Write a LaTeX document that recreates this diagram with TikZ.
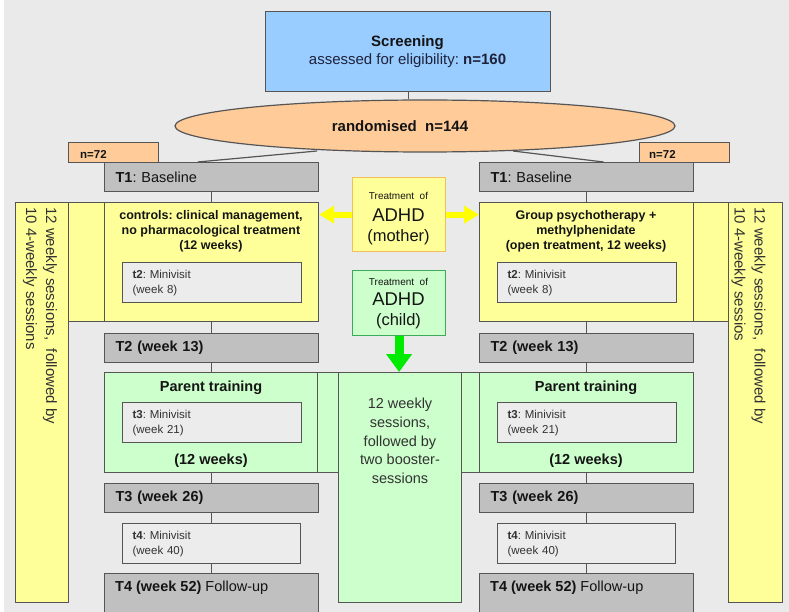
\documentclass[tikz,border=0pt]{standalone}
\usepackage{fontspec}
\setmainfont{Liberation Sans}
\usetikzlibrary{shapes.geometric,arrows.meta,calc}
\definecolor{bgc}{RGB}{234,234,234}
\definecolor{bluef}{RGB}{153,204,255}
\definecolor{peach}{RGB}{255,204,153}
\definecolor{tgray}{RGB}{192,192,192}
\definecolor{yel}{RGB}{255,255,153}
\definecolor{grn}{RGB}{204,255,204}
\definecolor{mini}{RGB}{236,236,236}
\definecolor{edgec}{RGB}{85,85,85}
\definecolor{mborder}{RGB}{240,190,90}
\definecolor{cborder}{RGB}{60,170,90}
\definecolor{arrY}{RGB}{255,255,0}
\definecolor{arrG}{RGB}{0,235,0}
\definecolor{txt}{RGB}{20,20,20}
\definecolor{txtg}{RGB}{50,50,50}
\definecolor{txtb}{RGB}{30,35,60}
\newcommand\fs[2]{\fontsize{#1}{#2}\selectfont}
\frenchspacing
\tikzset{
  box/.style={draw=edgec, line width=1.2pt, inner sep=0pt, anchor=north west, text=txt},
  tbox/.style={box, fill=tgray, minimum width=214pt, minimum height=29pt, text width=192pt, inner xsep=11pt, align=left, font=\fs{14.5}{17}},
  minibox/.style={box, fill=mini, minimum width=179pt, minimum height=40pt, text width=159pt, inner xsep=10pt, align=left, font=\fs{11.5}{15}, text=txtg},
  conn/.style={draw=edgec, line width=1.2pt},
  lbl/.style={inner sep=0pt, text=txt},
  yarrow/.style={draw=arrY, line width=6pt, -{Triangle[length=15pt,width=17pt]}},
  garrow/.style={draw=arrG, line width=9pt, -{Triangle[length=18pt,width=25pt]}}
}
\begin{document}
\begin{tikzpicture}[x=1pt,y=-1pt]
\useasboundingbox (0,0) rectangle (789,612);
\clip (0,0) rectangle (789,612);
\fill[white] (0,0) rectangle (789,612);
\fill[bgc] (4,0) rectangle (789,612);

% screening and randomisation
\node[box, fill=bluef, minimum width=285pt, minimum height=80pt] (scr) at (265,11) {};
\node[lbl, font=\fs{15}{18}\bfseries] (scrA) at (407.5,43) {Screening};
\node[lbl, font=\fs{15}{18}, text=txtb] (scrB) at (407.5,61) {assessed for eligibility: \textbf{n=160}};
\node[ellipse, draw=edgec, line width=1.2pt, fill=peach, minimum width=500pt, minimum height=52pt, inner sep=0pt] (rand) at (425,126) {};
\node[lbl, font=\fs{15}{18}\bfseries] (randt) at (400,126) {randomised\ \ n=144};
\draw[conn] (scr.south) -- (scr.south |- rand.north);

\coordinate (rl) at (317,151);
\coordinate (rr) at (513,151);

% n=72 boxes
\node[box, fill=peach, minimum width=90pt, minimum height=20pt] (nL) at (68,142) {};
\node[lbl, anchor=base west, font=\fs{11.5}{13}\bfseries] (nLt) at (80,159) {n=72};
\node[box, fill=peach, minimum width=90pt, minimum height=20pt] (nR) at (639,142) {};
\node[lbl, anchor=base west, font=\fs{11.5}{13}\bfseries] (nRt) at (649,159) {n=72};

% T1
\node[tbox] (T1L) at (104,162) {\textbf{T1}: Baseline};
\node[tbox] (T1R) at (479,162) {\textbf{T1}: Baseline};
\draw[conn] (rl) -- ($(T1L.north)+(-14,0)$);
\draw[conn] (rr) -- ($(T1R.north)+(17,0)$);

% left column
\node[box, fill=yel, minimum width=53pt, minimum height=400pt] (barL) at (15,202) {};
\node[box, fill=yel, minimum width=36pt, minimum height=119pt] (cL) at (68,202) {};
\node[box, fill=yel, minimum width=214pt, minimum height=119pt] (ctrl) at (104,202) {};
\node[lbl, align=center, font=\fs{12.5}{15}\bfseries] (ctrlt) at (211,231)
  {controls: clinical management,\\no pharmacological treatment\\(12 weeks)};
\node[minibox] (t2L) at (122,262) {\textbf{t2}: Minivisit\\(week 8)};
\node[lbl, rotate=-90, anchor=west, align=left, font=\fs{15}{20}, text=txtg] (barLt) at (40,207)
  {12 weekly sessions,\ \ followed by\\10 4-weekly sessions};

% right column
\node[box, fill=yel, minimum width=54pt, minimum height=400pt] (barR) at (728,202) {};
\node[box, fill=yel, minimum width=35pt, minimum height=119pt] (cR) at (693,202) {};
\node[box, fill=yel, minimum width=214pt, minimum height=119pt] (psy) at (479,202) {};
\node[lbl, align=center, font=\fs{12.5}{15}\bfseries] (psyt) at (586,231)
  {Group psychotherapy +\\methylphenidate\\(open treatment, 12 weeks)};
\node[minibox] (t2R) at (497,262) {\textbf{t2}: Minivisit\\(week 8)};
\node[lbl, rotate=-90, anchor=west, align=left, font=\fs{15}{20}, text=txtg] (barRt) at (748.5,207)
  {12 weekly sessions,\ \ followed by\\10 4-weekly sessios};

% T2
\node[tbox] (T2L) at (104,333) {\textbf{T2 (week 13)}};
\node[tbox] (T2R) at (479,333) {\textbf{T2 (week 13)}};

% parent training
\node[box, fill=grn, minimum width=213pt, minimum height=100pt] (PTL) at (104,372) {};
\node[box, fill=grn, minimum width=21pt, minimum height=100pt] (pcL) at (317,372) {};
\node[box, fill=grn, minimum width=123pt, minimum height=230pt] (cen) at (338,372) {};
\node[box, fill=grn, minimum width=18pt, minimum height=100pt] (pcR) at (461,372) {};
\node[box, fill=grn, minimum width=214pt, minimum height=100pt] (PTR) at (479,372) {};
\node[lbl, font=\fs{14.5}{17}\bfseries] (PTLt) at (211,388) {Parent training};
\node[lbl, font=\fs{14.5}{17}\bfseries] (PTLw) at (211,461) {(12 weeks)};
\node[lbl, font=\fs{14.5}{17}\bfseries] (PTRt) at (586,388) {Parent training};
\node[lbl, font=\fs{14.5}{17}\bfseries] (PTRw) at (586,461) {(12 weeks)};
\node[minibox] (t3L) at (122,402) {\textbf{t3}: Minivisit\\(week 21)};
\node[minibox] (t3R) at (497,402) {\textbf{t3}: Minivisit\\(week 21)};
\node[lbl, align=center, font=\fs{14.5}{18.7}, text=txtg] (cent) at (400,441)
  {12 weekly\\sessions,\\followed by\\two booster-\\sessions};

% T3, t4, T4
\node[tbox] (T3L) at (104,483) {\textbf{T3 (week 26)}};
\node[tbox] (T3R) at (479,483) {\textbf{T3 (week 26)}};
\node[minibox, minimum width=178pt, text width=158pt] (t4L) at (122,523) {\textbf{t4}: Minivisit\\(week 40)};
\node[minibox, minimum width=178pt, text width=158pt] (t4R) at (497,523) {\textbf{t4}: Minivisit\\(week 40)};
\node[box, fill=tgray, minimum width=214pt, minimum height=50pt] (T4L) at (104,573) {};
\node[box, fill=tgray, minimum width=214pt, minimum height=50pt] (T4R) at (479,573) {};
\node[lbl, anchor=west, font=\fs{14.5}{17}] (T4Lt) at (115,588) {\textbf{T4 (week 52)} Follow-up};
\node[lbl, anchor=west, font=\fs{14.5}{17}] (T4Rt) at (490,588) {\textbf{T4 (week 52)} Follow-up};

% vertical connectors
\draw[conn] (T1L.south) -- (ctrl.north);
\draw[conn] (ctrl.south) -- (T2L.north);
\draw[conn] (T2L.south) -- (T2L.south |- PTL.north);
\draw[conn] (T2L.south |- PTL.south) -- (T3L.north);
\draw[conn] (T3L.south) -- (t4L.north);
\draw[conn] (t4L.south) -- (t4L.south |- T4L.north);
\draw[conn] (T1R.south) -- (psy.north);
\draw[conn] (psy.south) -- (T2R.north);
\draw[conn] (T2R.south) -- (PTR.north);
\draw[conn] (PTR.south) -- (T3R.north);
\draw[conn] (T3R.south) -- (t4R.north);
\draw[conn] (t4R.south) -- (t4R.south |- T4R.north);

% treatment boxes
\node[box, fill=yel, draw=mborder, minimum width=93pt, minimum height=74pt] (moth) at (352,177) {};
\node[lbl, font=\fs{10}{12}] (mothA) at (398.5,196) {Treatment\ \ of};
\node[lbl, font=\fs{18.5}{21}] (mothB) at (398.5,215) {ADHD};
\node[lbl, font=\fs{16.5}{19}] (mothC) at (398.5,237) {(mother)};
\node[box, fill=grn, draw=cborder, minimum width=93pt, minimum height=65pt] (chld) at (352,270) {};
\node[lbl, font=\fs{10}{12}] (chldA) at (398.5,282) {Treatment\ \ of};
\node[lbl, font=\fs{18.5}{21}] (chldB) at (398.5,299) {ADHD};
\node[lbl, font=\fs{16.5}{19}] (chldC) at (398.5,321) {(child)};
\draw[yarrow] (moth.west) -- (ctrl.east |- moth.west);
\draw[yarrow] (moth.east) -- (psy.west |- moth.east);
\draw[garrow] (chld.south) -- (chld.south |- cen.north);
\end{tikzpicture}
\end{document}
